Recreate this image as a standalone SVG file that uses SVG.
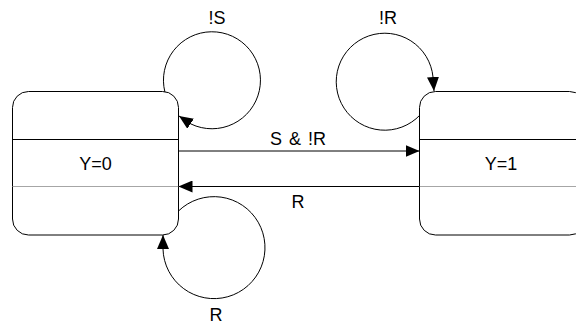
<svg xmlns="http://www.w3.org/2000/svg" width="576" height="329" viewBox="0 0 576 329">
  <style>
    .state { fill: #ffffff; stroke: #000000; stroke-width: 1; }
    .div-top { stroke: #000000; stroke-width: 1; }
    .div-bot { stroke: #a6a6a6; stroke-width: 1; }
    .edge { fill: none; stroke: #000000; stroke-width: 1; marker-end: url(#head); }
    text { font-family: "Liberation Sans", Arial, sans-serif; font-size: 18px; fill: #000000; text-anchor: middle; }
    .wide { word-spacing: 2px; }
  </style>
  <defs>
    <marker id="head" markerUnits="userSpaceOnUse" viewBox="0 0 14 12" refX="14" refY="6" markerWidth="14" markerHeight="12" orient="auto">
      <path d="M0,0 L14,6 L0,12 Z" fill="#000000"/>
    </marker>
  </defs>

  <!-- state Y=0 -->
  <g id="state-y0">
    <rect class="state" x="12.5" y="91.5" width="166" height="143.5" rx="16" ry="16"/>
    <line class="div-top" x1="12.5" y1="139.5" x2="178.5" y2="139.5"/>
    <line class="div-bot" x1="12.5" y1="186.5" x2="178.5" y2="186.5"/>
    <text x="95.5" y="169.5">Y=0</text>
  </g>

  <!-- state Y=1 (extends past the right edge) -->
  <g id="state-y1">
    <rect class="state" x="419.5" y="91.5" width="166" height="143.5" rx="16" ry="16"/>
    <line class="div-top" x1="419.5" y1="139.5" x2="585.5" y2="139.5"/>
    <line class="div-bot" x1="419.5" y1="186.5" x2="585.5" y2="186.5"/>
    <text x="501" y="169.5">Y=1</text>
  </g>

  <!-- transitions -->
  <g id="connectors">
    <!-- self loop on Y=0 : !S -->
    <path class="edge" d="M164.9,92 A48.5,48.5 0 1 1 191,124 L179,116"/>
    <text x="217" y="24">!S</text>

    <!-- self loop on Y=1 : !R -->
    <path class="edge" d="M420,115 A48.5,48.5 0 1 1 433,77 L434,91"/>
    <text x="388" y="23.5">!R</text>

    <!-- self loop on Y=0 : R -->
    <path class="edge" d="M178.5,211 A51,51 0 1 1 163,249 L163,235"/>
    <text x="216" y="321">R</text>

    <!-- Y=0 to Y=1 -->
    <path class="edge" d="M178.5,151 L419.5,151"/>
    <text class="wide" x="298" y="145">S &amp; !R</text>

    <!-- Y=1 to Y=0 -->
    <path class="edge" d="M419.5,186.5 L178.5,186.5"/>
    <text x="298" y="208">R</text>
  </g>
</svg>
